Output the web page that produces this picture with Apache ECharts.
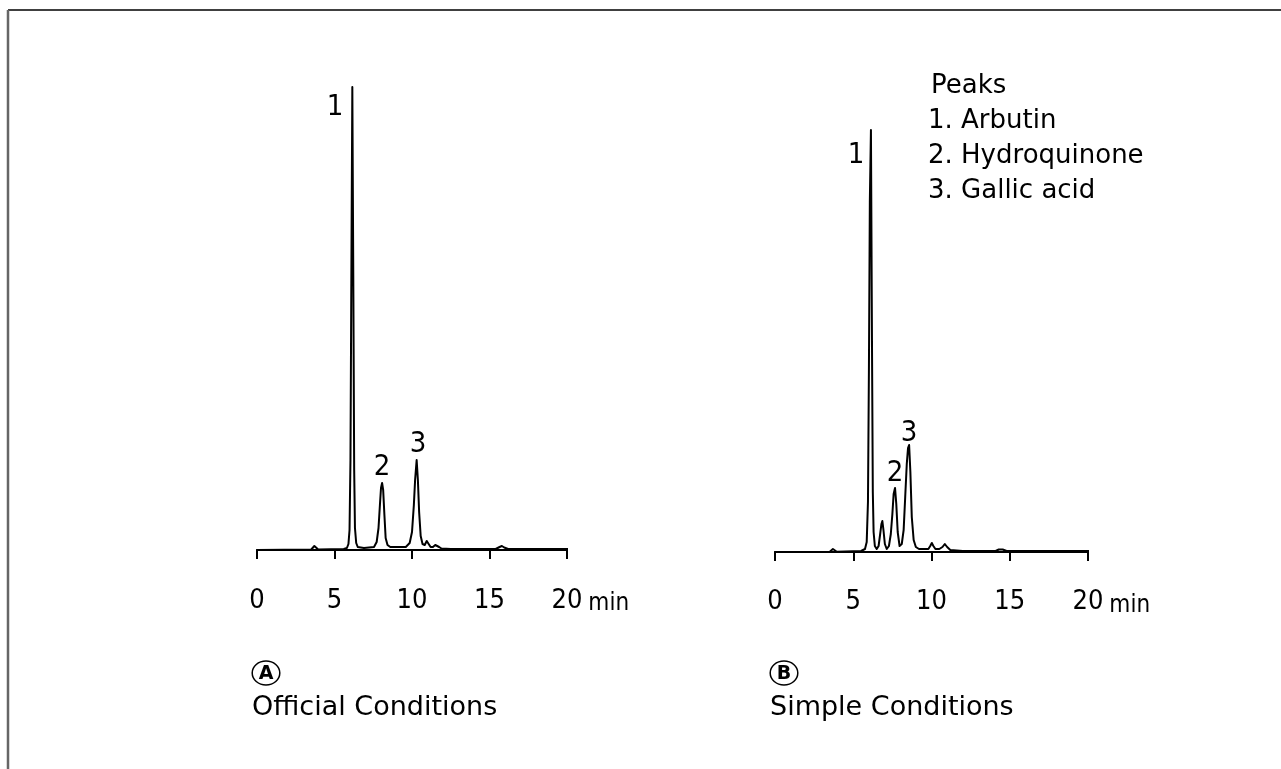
<!DOCTYPE html>
<html>
<head>
<meta charset="utf-8">
<script src="https://cdn.jsdelivr.net/npm/echarts@6/dist/echarts.min.js"></script>
<style>
html,body{margin:0;padding:0;background:#fff;}
#chart{width:1281px;height:769px;}
</style>
</head>
<body>
<div id="chart"></div>
<script>
// ---------- DATA ----------
// Chromatogram A (Official Conditions): retention time (min) / detector signal (arb.)
const timeA   = [0, 3.5, 3.62, 3.7, 3.8, 3.95, 5.6, 5.8, 5.9, 5.97, 6.03, 6.08, 6.15, 6.22, 6.27, 6.32, 6.4, 6.5, 6.9, 7.55, 7.72, 7.84, 7.93, 8.0, 8.07, 8.14, 8.22, 8.3, 8.42, 8.6, 9.6, 9.85, 10.0, 10.12, 10.2, 10.3, 10.38, 10.46, 10.56, 10.68, 10.82, 10.95, 11.05, 11.2, 11.35, 11.5, 11.62, 11.75, 11.9, 12.5, 15.4, 15.65, 15.8, 15.95, 16.2, 20.7];
const signalA = [0, 0.5, 2, 4, 2, 0.5, 1, 2, 6, 20, 90, 250, 463, 250, 80, 22, 7, 3, 2, 3, 8, 22, 45, 62, 67, 60, 35, 12, 5, 3, 3, 7, 18, 45, 70, 90, 70, 38, 14, 6, 5, 9, 8, 3, 3, 5, 6, 3, 1.5, 1, 1, 3, 4, 2.5, 1, 1];
// Chromatogram B (Simple Conditions)
const timeB   = [0, 3.5, 3.62, 3.7, 3.8, 3.95, 5.5, 5.75, 5.86, 5.94, 6.0, 6.06, 6.13, 6.2, 6.25, 6.3, 6.38, 6.5, 6.62, 6.72, 6.8, 6.86, 6.93, 7.02, 7.14, 7.28, 7.4, 7.5, 7.58, 7.67, 7.75, 7.84, 7.96, 8.1, 8.22, 8.32, 8.42, 8.5, 8.57, 8.65, 8.74, 8.86, 9.0, 9.2, 9.8, 9.92, 10.02, 10.12, 10.25, 10.5, 10.7, 10.85, 11.0, 11.2, 12.0, 14.1, 14.3, 14.42, 14.55, 14.8, 20.6];
const signalB = [0, 0.3, 1.5, 3, 1.5, 0.3, 1, 3, 10, 50, 180, 350, 422, 200, 60, 20, 6, 3, 6, 18, 28, 31, 22, 8, 3, 6, 18, 38, 58, 64, 48, 20, 6, 8, 22, 55, 88, 104, 107, 80, 35, 12, 5, 3, 3, 6, 9, 6, 3, 3, 5, 8, 5, 2, 1, 1, 2.5, 4, 2.5, 1, 1];

// Peak number labels [time, signal, text]
const peakLabelsA = [[5.03, 443, '1'], [8.06, 83, '2'], [10.39, 106, '3']];
const peakLabelsB = [[5.18, 397, '1'], [7.67, 79, '2'], [8.56, 119, '3']];

// Axis ticks
const tickValues = [0, 5, 10, 15, 20];
const axisUnit = 'min';

// Texts
const legendTitle = 'Peaks';
const legendItems = ['1. Arbutin', '2. Hydroquinone', '3. Gallic acid'];
const panelLetters = ['A', 'B'];
const panelTitles = ['Official Conditions', 'Simple Conditions'];

// ---------- CHART ----------
const digitFont = "'Liberation Sans Narrow', 'DejaVu Sans Condensed', 'Liberation Sans', sans-serif";
const textFont = "'DejaVu Sans', sans-serif";

const zip = (t, s) => t.map((x, i) => [x, s[i]]);

function makeX(gi) {
  return {
    gridIndex: gi, type: 'value', min: tickValues[0], max: tickValues[tickValues.length - 1], interval: 5,
    axisLine: { show: true, lineStyle: { color: '#000', width: 2 } },
    axisTick: { show: true, length: 9, lineStyle: { color: '#000', width: 2 } },
    axisLabel: { fontFamily: digitFont, fontSize: 27, color: '#000', margin: 16, showMinLabel: true, showMaxLabel: true },
    splitLine: { show: false },
    name: axisUnit, nameLocation: 'end', nameGap: 21,
    nameTextStyle: { fontFamily: digitFont, fontSize: 24, color: '#000', verticalAlign: 'top', padding: [42, 0, 0, 0] }
  };
}
function makeY(gi, min, max) {
  return { gridIndex: gi, type: 'value', min: min, max: max, show: false, splitLine: { show: false } };
}
function traceSeries(idx, data) {
  return {
    type: 'line', xAxisIndex: idx, yAxisIndex: idx, data: data, clip: false,
    symbol: 'none', smooth: false,
    lineStyle: { color: '#000', width: 2, join: 'round', cap: 'round' }, silent: true
  };
}
function labelSeries(idx, arr) {
  return {
    type: 'scatter', xAxisIndex: idx, yAxisIndex: idx, symbolSize: 0, silent: true, clip: false,
    itemStyle: { opacity: 1 },
    data: arr.map(d => ({ value: [d[0], d[1]], label: { formatter: d[2] } })),
    label: { show: true, position: 'inside', fontFamily: digitFont, fontSize: 29, color: '#000', textBorderWidth: 0, opacity: 1 }
  };
}

const graphics = [
  { type: 'line', shape: { x1: 8, y1: 10, x2: 1281, y2: 10 }, style: { stroke: '#000', lineWidth: 1.5 } },
  { type: 'line', shape: { x1: 8, y1: 10, x2: 8, y2: 769 }, style: { stroke: '#666', lineWidth: 2.5 } },
  { type: 'text', left: 931, top: 73, style: { text: legendTitle, font: '26px ' + textFont, fill: '#000' } }
];
legendItems.forEach((t, i) => {
  graphics.push({ type: 'text', left: 928, top: 108 + i * 35, style: { text: t, font: '26px ' + textFont, fill: '#000' } });
});
const panelX = [252, 770];
panelLetters.forEach((L, i) => {
  graphics.push({ type: 'circle', shape: { cx: panelX[i] + 14, cy: 673, r: 12 }, scaleX: 1.15, originX: panelX[i] + 14, originY: 673, style: { stroke: '#000', fill: 'none', lineWidth: 1.3 } });
  graphics.push({ type: 'text', style: { x: panelX[i] + 14, y: 674, text: L, font: 'bold 19px ' + textFont, fill: '#000', align: 'center', verticalAlign: 'middle' } });
  graphics.push({ type: 'text', left: panelX[i], top: 694, style: { text: panelTitles[i], font: '27px ' + textFont, fill: '#000' } });
});

const chart = echarts.init(document.getElementById('chart'), null, { renderer: 'canvas' });
chart.setOption({
  backgroundColor: '#fff',
  animation: false,
  grid: [
    { left: 257, top: 87, width: 310, height: 484 },
    { left: 775, top: 87, width: 313, height: 485 }
  ],
  xAxis: [makeX(0), makeX(1)],
  yAxis: [makeY(0, -21, 463), makeY(1, -20, 465)],
  series: [
    traceSeries(0, zip(timeA, signalA)),
    traceSeries(1, zip(timeB, signalB)),
    labelSeries(0, peakLabelsA),
    labelSeries(1, peakLabelsB)
  ],
  graphic: graphics
});
</script>
</body>
</html>
